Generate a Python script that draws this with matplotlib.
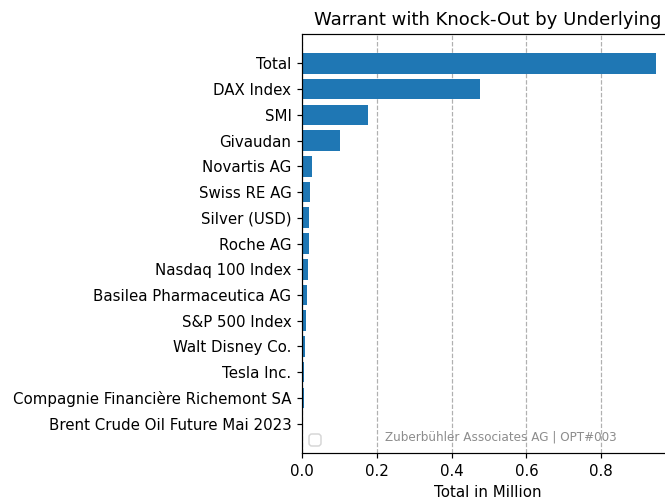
import numpy as np
import matplotlib.pyplot as plt

# underlyings, top to bottom as shown
underlyings = ["Total", "DAX Index", "SMI", "Givaudan", "Novartis AG", "Swiss RE AG",
               "Silver (USD)", "Roche AG", "Nasdaq 100 Index", "Basilea Pharmaceutica AG",
               "S&P 500 Index", "Walt Disney Co.", "Tesla Inc.",
               "Compagnie Financière Richemont SA", "Brent Crude Oil Future Mai 2023"]
totals = [0.947, 0.477, 0.176, 0.102, 0.028, 0.022, 0.019, 0.019, 0.016, 0.013,
          0.011, 0.007, 0.006, 0.006, 0.003]

dpi = 108
fig = plt.figure(figsize=(665 / dpi, 497 / dpi), dpi=dpi)
ax = fig.add_axes([0.4541, 0.0885, 0.5594, 0.8431])

ax.barh(underlyings[::-1], totals[::-1], color="#1f77b4")
ax.grid(axis="x", linestyle="--", color="#b0b0b0")
ax.set_axisbelow(True)
ax.set_xlabel("Total in Million")
ax.set_title("Warrant with Knock-Out by Underlying")
ax.legend(handles=[], loc="lower left")
ax.text(0.535, 0.022, "Zuberbühler Associates AG | OPT#003", transform=ax.transAxes,
        ha="center", va="bottom", fontsize=8, color="grey", alpha=0.9)

plt.savefig("out.png", dpi=dpi)
